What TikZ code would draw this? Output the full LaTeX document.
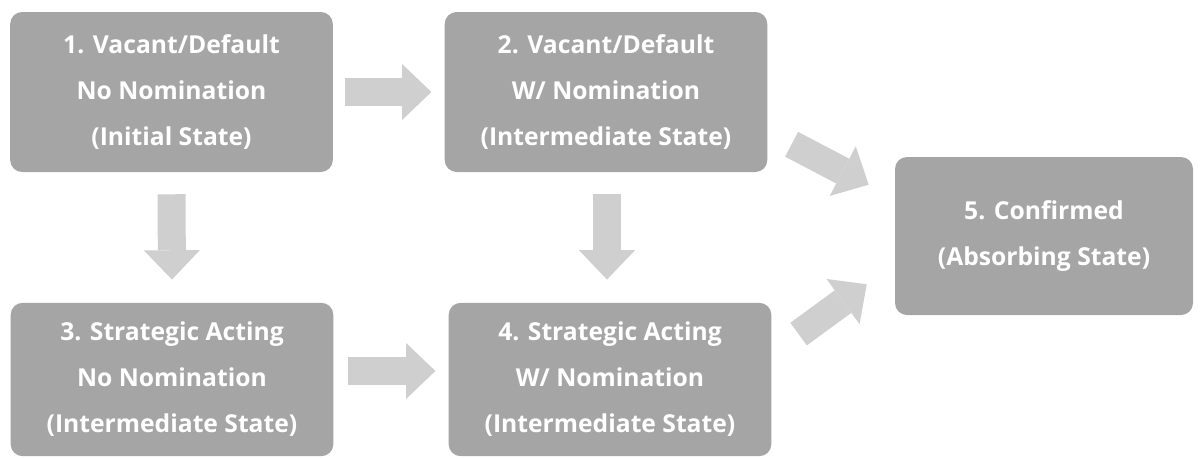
\documentclass[tikz,border=0pt]{standalone}
\usepackage{fontspec}
\setmainfont{Open Sans}
\usetikzlibrary{arrows.meta,positioning}
\definecolor{boxgray}{HTML}{A5A5A5}
\definecolor{arrowgray}{HTML}{CFCFCF}
\begin{document}
\begin{tikzpicture}[x=0.75pt, y=-0.75pt, line join=round,
    statebox/.style={fill=boxgray, rounded corners=9pt, text=white, align=center, inner sep=0pt,
        font=\bfseries\fontsize{18.5}{34.5}\selectfont, minimum width=242pt, minimum height=120pt},
    flow/.style={draw=arrowgray, line width=21pt, -{Triangle[length=22pt, width=42pt, line width=0pt]}}]
    \useasboundingbox (0,0) rectangle (1203,458);
    \node[statebox] (s1) at (171.5,92) {1. Vacant/Default\\No Nomination\\(Initial State)};
    \node[statebox] (s2) at (606,92) {2. Vacant/Default\\W/ Nomination\\(Intermediate State)};
    \node[statebox, minimum height=115pt] (s3) at (172,379.5) {3. Strategic Acting\\No Nomination\\(Intermediate State)};
    \node[statebox, minimum height=115pt] (s4) at (610,379.5) {4. Strategic Acting\\W/ Nomination\\(Intermediate State)};
    \node[statebox, minimum width=223.5pt, minimum height=118.5pt] (s5) at (1044,236) {5. Confirmed\\(Absorbing State)};
    \draw[flow] ([shift={(12,0)}]s1.east) -- ([shift={(-13,0)}]s2.west);
    \draw[flow] ([shift={(14,-8.5)}]s3.east) -- ([shift={(-13,-8.5)}]s4.west);
    \draw[flow] ([shift={(0,22)}]s1.south) -- ([shift={(0,-23)}]s3.north);
    \draw[flow] ([shift={(1,22)}]s2.south) -- ([shift={(-3,-23)}]s4.north);
    \draw[flow] ([shift={(24,-28)}]s2.south east) -- ([shift={(-26,28)}]s5.north west);
    \draw[flow] ([shift={(27,31.5)}]s4.north east) -- ([shift={(-28,-31)}]s5.south west);
\end{tikzpicture}
\end{document}
